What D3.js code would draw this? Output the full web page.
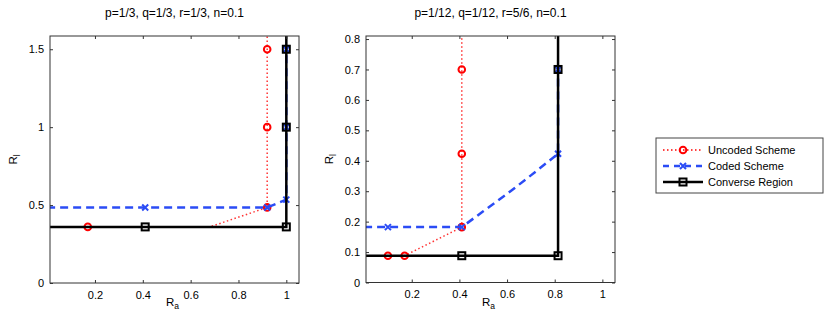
<!DOCTYPE html>
<html>
<head>
<meta charset="utf-8">
<script src="https://cdn.jsdelivr.net/npm/d3@7"></script>
<style>
  body { margin: 0; background: #fff; }
  svg text { font-family: "Liberation Sans", Arial, sans-serif; fill: #000; }
</style>
</head>
<body>
<div id="chart"></div>
<script>
// tick labels and titles
var xTicks = [0.2, 0.4, 0.6, 0.8, 1],
    leftYTicks = [0, 0.5, 1, 1.5],
    rightYTicks = [0, 0.1, 0.2, 0.3, 0.4, 0.5, 0.6, 0.7, 0.8],
    titles = ['p=1/3, q=1/3, r=1/3, n=0.1', 'p=1/12, q=1/12, r=5/6, n=0.1'],
    seriesNames = ['Uncoded Scheme', 'Coded Scheme', 'Converse Region'];

// left panel
var leftUncodedLine = [[0.17, 0.36], [0.68, 0.36], [0.92, 0.485], [0.92, 1.7]],
    leftUncodedMarks = [[0.17, 0.36], [0.92, 0.485], [0.92, 1], [0.92, 1.5]],
    leftCodedLine = [[0, 0.485], [0.41, 0.485], [0.92, 0.485], [1, 0.535], [1, 1], [1, 1.5]],
    leftCodedMarks = [[0.41, 0.485], [0.92, 0.485], [1, 0.535], [1, 1], [1, 1.5]],
    leftConverseLine = [[0, 0.36], [0.41, 0.36], [1, 0.36], [1, 1], [1, 1.5], [1, 1.7]],
    leftConverseMarks = [[0.41, 0.36], [1, 0.36], [1, 1], [1, 1.5]];

// right panel
var rightUncodedLine = [[0.1, 0.088], [0.17, 0.088], [0.41, 0.182], [0.41, 0.9]],
    rightUncodedMarks = [[0.1, 0.088], [0.17, 0.088], [0.41, 0.182], [0.41, 0.423], [0.41, 0.7]],
    rightCodedLine = [[0, 0.182], [0.1, 0.182], [0.41, 0.182], [0.5, 0.234], [0.6, 0.291], [0.7, 0.352], [0.814, 0.423], [0.814, 0.7]],
    rightCodedMarks = [[0.1, 0.182], [0.41, 0.182], [0.814, 0.423], [0.814, 0.7]],
    rightConverseLine = [[0, 0.088], [0.41, 0.088], [0.814, 0.088], [0.814, 0.7], [0.814, 0.9]],
    rightConverseMarks = [[0.41, 0.088], [0.814, 0.088], [0.814, 0.7]];

var red = '#ff0000', blue = '#2b4cf5', black = '#000';

var svg = d3.select('#chart').append('svg')
    .attr('width', 830)
    .attr('height', 332);

var panels = [
  { left: 50, right: 299, top: 36, bottom: 283, xDom: [0.012, 1.053], yDom: [0, 1.585], yTicks: leftYTicks,
    title: titles[0], unc: [leftUncodedLine, leftUncodedMarks], cod: [leftCodedLine, leftCodedMarks], con: [leftConverseLine, leftConverseMarks] },
  { left: 366, right: 615, top: 36, bottom: 282.5, xDom: [0.008, 1.053], yDom: [0, 0.81], yTicks: rightYTicks,
    title: titles[1], unc: [rightUncodedLine, rightUncodedMarks], cod: [rightCodedLine, rightCodedMarks], con: [rightConverseLine, rightConverseMarks] }
];

function fmt(v) { return String(+v.toFixed(2)); }

function circleMark(g, pts, x, y) {
  g.selectAll(null).data(pts).enter().append('circle')
    .attr('cx', function (d) { return x(d[0]); })
    .attr('cy', function (d) { return y(d[1]); })
    .attr('r', 3.3)
    .attr('fill', 'none')
    .attr('stroke', red)
    .attr('stroke-width', 2);
}
function crossMark(g, pts, x, y) {
  var s = 3;
  g.selectAll(null).data(pts).enter().append('path')
    .attr('d', function (d) {
      var cx = x(d[0]), cy = y(d[1]);
      return 'M' + (cx - s) + ',' + (cy - s) + 'L' + (cx + s) + ',' + (cy + s) +
             'M' + (cx - s) + ',' + (cy + s) + 'L' + (cx + s) + ',' + (cy - s);
    })
    .attr('stroke', blue)
    .attr('stroke-width', 2);
}
function squareMark(g, pts, x, y) {
  g.selectAll(null).data(pts).enter().append('rect')
    .attr('x', function (d) { return x(d[0]) - 3.5; })
    .attr('y', function (d) { return y(d[1]) - 3.5; })
    .attr('width', 7)
    .attr('height', 7)
    .attr('fill', 'none')
    .attr('stroke', black)
    .attr('stroke-width', 2);
}

panels.forEach(function (p, i) {
  var x = d3.scaleLinear().domain(p.xDom).range([p.left, p.right]),
      y = d3.scaleLinear().domain(p.yDom).range([p.bottom, p.top]),
      line = d3.line().x(function (d) { return x(d[0]); }).y(function (d) { return y(d[1]); });

  var clipId = 'clip' + i;
  svg.append('clipPath').attr('id', clipId).append('rect')
    .attr('x', p.left).attr('y', p.top)
    .attr('width', p.right - p.left).attr('height', p.bottom - p.top);

  var g = svg.append('g').attr('clip-path', 'url(#' + clipId + ')');

  // uncoded
  g.append('path').attr('d', line(p.unc[0])).attr('fill', 'none')
    .attr('stroke', red).attr('stroke-width', 1.5).attr('stroke-dasharray', '1.5,2.5').attr('opacity', 0.8);
  circleMark(g, p.unc[1], x, y);
  // coded
  g.append('path').attr('d', line(p.cod[0])).attr('fill', 'none')
    .attr('stroke', blue).attr('stroke-width', 2.5).attr('stroke-dasharray', '8,5');
  crossMark(g, p.cod[1], x, y);
  // converse
  g.append('path').attr('d', line(p.con[0])).attr('fill', 'none')
    .attr('stroke', black).attr('stroke-width', 2.5);
  squareMark(g, p.con[1], x, y);

  // axes box
  svg.append('rect')
    .attr('x', p.left).attr('y', p.top)
    .attr('width', p.right - p.left).attr('height', p.bottom - p.top)
    .attr('fill', 'none').attr('stroke', '#333').attr('stroke-width', 1);

  var xAxis = svg.append('g').attr('transform', 'translate(0,' + p.bottom + ')')
    .call(d3.axisBottom(x).tickValues(xTicks).tickFormat(fmt).tickSizeInner(-3).tickSizeOuter(0).tickPadding(8));
  var xTop = svg.append('g').attr('transform', 'translate(0,' + p.top + ')')
    .call(d3.axisTop(x).tickValues(xTicks).tickFormat('').tickSizeInner(-3).tickSizeOuter(0));
  var yAxis = svg.append('g').attr('transform', 'translate(' + p.left + ',0)')
    .call(d3.axisLeft(y).tickValues(p.yTicks).tickFormat(fmt).tickSizeInner(-3).tickSizeOuter(0).tickPadding(6));
  var yRight = svg.append('g').attr('transform', 'translate(' + p.right + ',0)')
    .call(d3.axisRight(y).tickValues(p.yTicks).tickFormat('').tickSizeInner(-3).tickSizeOuter(0));
  [xAxis, xTop, yAxis, yRight].forEach(function (a) {
    a.select('.domain').remove();
    a.selectAll('line').attr('stroke', '#333');
    a.selectAll('text').style('font-size', '11px').attr('fill', '#000');
  });

  var cx = (p.left + p.right) / 2;
  svg.append('text').attr('x', cx).attr('y', 17).attr('text-anchor', 'middle')
    .style('font-size', '12px').text(p.title);

  var xl = svg.append('text').attr('x', cx - 2).attr('y', 306).attr('text-anchor', 'middle').style('font-size', '11.5px');
  xl.append('tspan').text('R');
  xl.append('tspan').attr('dy', 3).style('font-size', '8.5px').text('a');

  var yl = svg.append('text').attr('transform', 'translate(' + (p.left - 33) + ',' + ((p.top + p.bottom) / 2) + ') rotate(-90)')
    .attr('text-anchor', 'middle').style('font-size', '11.5px');
  yl.append('tspan').text('R');
  yl.append('tspan').attr('dy', 3).style('font-size', '8.5px').text('l');
});

// legend
var lg = svg.append('g').attr('transform', 'translate(656,138)');
lg.append('rect').attr('width', 167).attr('height', 55).attr('fill', '#fff')
  .attr('stroke', '#444').attr('stroke-width', 1);
var styles = [
  { stroke: red, w: 1.5, dash: '1.5,2.5', mark: circleMark },
  { stroke: blue, w: 2.5, dash: '6,5', mark: crossMark },
  { stroke: black, w: 2.5, dash: null, mark: squareMark }
];
var lx = d3.scaleLinear().domain([0, 1]).range([7, 47]),
    ly = d3.scaleBand().domain(seriesNames).range([4, 52]);
seriesNames.forEach(function (name, i) {
  var s = styles[i], yy = ly(name) + ly.bandwidth() / 2;
  lg.append('line').attr('x1', lx(0)).attr('x2', lx(1)).attr('y1', yy).attr('y2', yy)
    .attr('stroke', s.stroke).attr('stroke-width', s.w).attr('stroke-dasharray', s.dash);
  s.mark(lg, [[0.5, yy]], lx, function (v) { return v; });
  lg.append('text').attr('x', 52).attr('y', yy + 4).style('font-size', '11px').text(name);
});
</script>
</body>
</html>
